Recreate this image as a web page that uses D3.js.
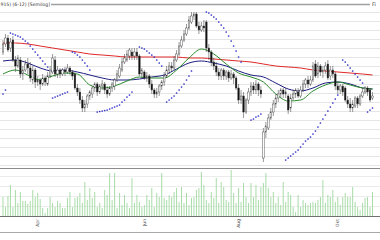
<!DOCTYPE html>
<html>
<head>
<meta charset="utf-8">
<script src="https://cdn.jsdelivr.net/npm/d3@7/dist/d3.min.js"></script>
<style>
  body { margin: 0; background: #fff; }
  #graf { width: 380px; height: 240px; }
  text { font-family: "DejaVu Sans", sans-serif; }
</style>
</head>
<body>
<div id="graf"></div>
<script>
// Datos (precio por vela, 150 sesiones)
const apertura = [
  14.8,15.6,16.2,15.2,16.0,14.0,13.4,14.0,12.6,13.0,
  13.6,13.2,12.0,13.0,11.8,12.0,11.6,12.2,11.6,12.4,
  12.8,14.0,12.6,13.0,12.6,13.0,12.8,13.2,12.8,12.6,
  11.2,10.8,10.0,9.2,9.6,10.4,10.6,11.2,11.6,10.8,
  11.4,11.6,11.0,10.6,11.2,11.4,12.0,12.4,13.0,13.8,
  14.0,14.4,14.8,14.4,14.8,14.4,12.6,12.8,12.2,12.4,
  11.6,11.0,10.6,10.8,11.4,11.8,12.4,13.0,13.4,13.2,
  14.0,14.6,15.4,16.0,16.6,17.2,17.8,18.4,18.6,17.4,
  17.0,17.4,17.8,15.2,14.8,13.8,13.4,12.8,12.4,13.0,
  12.4,12.8,12.2,12.6,12.2,11.2,10.0,10.4,8.8,10.0,
  10.8,11.4,11.0,11.6,11.0,4.2,6.8,7.2,8.2,8.8,
  9.6,10.2,10.6,11.0,10.6,10.4,9.2,10.2,10.6,10.8,
  10.4,11.0,11.6,12.0,11.6,12.0,13.6,12.6,13.4,12.8,
  13.0,13.6,12.4,13.0,12.6,11.4,11.0,11.4,11.2,10.0,
  9.6,9.2,9.4,10.2,9.6,10.4,10.8,11.2,11.0,10.2]
const cierre = [
  15.6,16.2,15.0,15.8,14.0,13.4,14.2,12.6,13.0,13.6,
  13.2,12.2,13.0,11.8,12.0,11.6,12.2,11.8,12.4,13.0,
  14.2,12.6,13.0,12.6,13.0,12.8,13.2,12.8,12.4,11.2,
  10.8,10.0,9.2,9.6,10.4,10.8,11.2,11.6,10.8,11.4,
  11.6,11.0,10.6,11.2,11.6,12.0,12.6,13.2,13.8,14.2,
  14.6,15.0,14.4,14.8,14.4,12.6,13.0,12.2,12.4,11.6,
  11.0,10.6,10.8,11.4,11.8,12.4,13.0,13.4,13.2,14.0,
  14.6,15.4,16.0,16.6,17.2,18.0,18.4,18.6,17.4,17.0,
  17.4,17.2,15.2,14.8,13.8,13.4,12.8,12.4,13.0,12.4,
  12.8,12.2,12.6,12.2,11.2,10.0,10.4,8.8,10.0,10.8,
  11.4,11.0,11.6,11.0,10.6,6.8,7.4,8.2,8.8,9.6,
  10.2,10.6,11.0,10.6,10.8,9.0,10.2,10.6,11.0,10.4,
  11.0,11.6,12.0,11.6,12.0,13.4,12.4,13.4,12.8,13.0,
  13.4,12.2,13.0,12.6,11.4,11.0,11.4,10.8,10.0,9.6,
  9.2,9.6,10.2,9.6,10.4,10.8,11.2,10.8,10.0,10.4]
const maximo = [
  16.0,16.6,16.5,16.2,16.4,14.4,14.5,14.3,13.4,14.0,
  14.2,13.8,13.4,13.2,12.4,12.2,12.6,12.4,12.8,13.4,
  14.6,14.4,13.4,13.2,13.2,13.3,13.6,13.4,13.0,12.8,
  11.6,11.2,10.4,10.0,10.6,11.0,11.4,11.8,11.8,11.6,
  12.0,11.8,11.4,11.4,11.8,12.2,13.0,13.6,14.2,14.6,
  15.0,15.2,15.2,15.2,15.2,14.6,13.2,13.0,12.8,12.6,
  12.0,11.2,11.2,11.6,12.0,12.8,13.4,13.8,13.8,14.4,
  15.0,15.8,16.4,17.0,17.6,18.4,18.8,18.8,18.8,17.8,
  17.8,18.0,18.0,15.6,15.0,14.2,13.8,13.2,13.2,13.2,
  13.0,13.0,13.0,12.8,12.4,11.6,11.0,10.8,10.2,11.2,
  11.8,11.8,12.0,11.8,11.4,7.2,7.8,8.6,9.2,10.0,
  10.6,11.0,11.2,11.2,11.2,10.6,10.6,11.0,11.2,11.2,
  11.4,12.0,12.2,12.4,12.4,13.8,14.0,13.8,13.6,13.4,
  13.8,14.0,13.4,13.4,12.8,11.8,11.6,11.6,11.4,10.4,
  10.2,10.0,10.4,10.4,10.6,11.2,11.4,11.4,11.2,10.8]
const minimo = [
  14.5,15.3,14.8,14.8,13.8,12.8,13.2,12.2,12.0,12.8,
  12.6,11.8,11.6,11.2,11.4,11.0,11.4,11.4,11.4,12.2,
  12.6,12.3,12.2,12.2,12.4,12.4,12.6,12.5,12.0,11.0,
  10.4,9.6,8.8,8.8,9.2,10.0,10.2,10.8,10.4,10.6,
  11.0,10.6,10.2,10.4,10.8,11.0,11.8,12.2,12.8,13.6,
  13.8,14.0,14.0,14.0,14.0,12.4,12.2,12.0,11.8,11.2,
  10.6,10.2,10.2,10.4,11.0,11.4,12.2,12.6,12.8,13.0,
  13.8,14.4,15.2,15.8,16.4,17.0,17.6,18.0,17.2,16.6,
  16.8,16.8,14.8,14.0,13.4,13.0,12.4,12.0,12.0,12.0,
  12.0,11.8,12.0,11.6,11.0,9.6,9.6,8.2,8.6,9.6,
  10.4,10.6,10.6,10.4,10.2,3.8,6.2,7.0,8.0,8.4,
  9.2,9.8,10.2,10.2,10.2,8.6,8.8,10.0,10.2,10.2,
  10.2,10.8,11.2,11.2,11.4,11.8,12.2,12.2,12.4,12.2,
  12.6,12.0,12.0,12.2,11.0,10.6,10.6,10.4,9.8,9.2,
  8.8,8.8,9.2,9.2,9.4,10.2,10.6,10.4,9.8,10.0]
// volumen en miles
const volumen = [
  19,9,20,31,9,26,13,24,15,15,12,15,26,19,23,17,8,3,8,19,13,9,15,13,8,
  8,18,24,9,18,19,23,13,34,16,28,18,24,9,13,8,26,21,43,16,43,8,23,11,21,13,
  8,38,13,21,14,9,11,21,16,28,9,23,19,43,18,16,21,19,24,28,14,29,13,23,11,
  18,19,26,28,44,31,16,13,24,18,38,13,34,29,16,14,46,23,13,28,14,33,19,13,
  33,19,31,16,29,33,43,28,19,24,13,19,11,34,14,24,21,9,4,21,9,16,13,11,13,
  14,13,16,19,36,13,21,19,26,14,19,11,19,23,19,19,29,14,9,6,13,18,19,9,24]

// medias móviles (valor cada 5 sesiones)
const idxMedias = [0,5,10,15,20,25,30,35,40,45,50,55,60,65,70,75,80,85,90,95,
  100,105,110,115,120,125,130,135,140,145,149]
const mediaCorta = [12.6,13.0,12.5,12.0,12.4,12.7,12.6,11.5,11.2,11.4,11.9,12.3,12.2,12.2,13.0,
  14.2,15.1,14.6,13.6,12.7,12.3,11.8,10.6,9.9,10.0,10.9,11.5,11.8,11.5,11.2,11.1]
const mediaMedia = [13.9,14.0,13.7,13.2,12.9,13.0,12.8,12.5,12.2,12.0,12.0,12.1,12.3,12.5,13.1,
  13.7,13.9,13.7,13.4,12.9,12.5,12.3,11.7,11.1,10.9,11.2,11.7,11.8,11.6,11.2,11.1]
const mediaLarga = [15.7,15.7,15.6,15.4,15.2,15.0,14.8,14.6,14.5,14.4,14.3,14.3,14.3,14.3,14.3,
  14.2,14.2,14.1,14.0,13.9,13.8,13.6,13.4,13.3,13.2,13.0,12.9,12.8,12.7,12.6,12.5]

// parabolic SAR (null = sin punto)
const sar = [
  10.6,11.0,null,
  16.7,16.6,16.5,16.4,16.3,16.1,15.9,15.7,15.4,15.1,14.8,14.5,14.2,13.9,13.6,13.3,
  null,
  10.2,10.3,10.4,10.5,10.6,10.7,10.8,
  null,
  14.8,14.7,14.5,14.3,14.0,13.7,13.4,13.0,
  null,null,
  8.8,8.85,8.9,8.95,9.0,9.1,9.2,9.3,9.4,9.5,9.8,10.0,10.3,10.5,10.8,
  null,null,
  15.3,15.2,15.1,14.9,14.7,14.5,14.3,14.0,13.7,13.4,
  null,
  9.8,10.0,10.2,10.4,10.7,11.0,11.3,11.6,12.0,12.4,12.9,
  null,null,null,null,null,
  18.8,18.7,18.5,18.3,18.1,17.8,17.5,17.2,16.8,16.4,15.9,15.4,14.9,14.3,13.8,
  null,null,null,
  8.0,8.1,8.3,8.4,8.6,
  null,null,null,null,null,null,null,null,null,
  4.0,4.2,4.4,4.6,4.8,5.0,5.3,5.6,5.9,6.1,6.3,6.6,6.9,7.3,7.7,8.1,8.5,8.9,9.3,9.7,10.1,10.5,
  null,
  14.0,13.8,13.5,13.2,12.9,12.6,12.3,12.0,11.7,
  null,
  8.8,9.0,9.2]

// etiquetas del eje x
const idxMeses = [14, 57, 95, 135]
const meses = ["Apr", "Jun", "Aug", "Okt"]
const titulo = "915) (6-12) [Semilog]"

const anchoTotal = 380
const altoTotal = 240
const svg = d3.select("#graf")
  .append("svg")
  .attr("width", anchoTotal)
  .attr("height", altoTotal)

// escalas
const n = cierre.length
const x = d3.scaleLinear().domain([0, n - 1]).range([3, 372.5])
const y = d3.scaleLinear().domain([3.2, 19.7]).range([168, 3])
const yVol = d3.scaleLinear().domain([0, 48]).range([216, 168])

// rejilla del panel de precios
const rejilla = d3.range(1, 19).map((k) => 19.7 - 0.9 * k)
svg.append("g").selectAll("line").data(rejilla).enter().append("line")
  .attr("x1", 0).attr("x2", anchoTotal)
  .attr("y1", (d) => Math.round(y(d)) + 0.5).attr("y2", (d) => Math.round(y(d)) + 0.5)
  .attr("stroke", "#e6e6e6")

// rejilla del volumen
svg.append("g").selectAll("line").data(yVol.ticks(5).filter((d) => d > 0)).enter().append("line")
  .attr("x1", 0).attr("x2", anchoTotal)
  .attr("y1", (d) => Math.round(yVol(d)) + 0.5).attr("y2", (d) => Math.round(yVol(d)) + 0.5)
  .attr("stroke", "#ececec")

// bordes
const bordes = [
  { y: 4.5, c: "#a0a0a0", w: 1.5 },
  { y: 168.5, c: "#8c8c8c", w: 1 },
  { y: 216.5, c: "#707070", w: 1 },
  { y: 232.5, c: "#a8a8a8", w: 1 }
]
svg.append("g").selectAll("line").data(bordes).enter().append("line")
  .attr("x1", 0).attr("x2", anchoTotal)
  .attr("y1", (d) => d.y).attr("y2", (d) => d.y)
  .attr("stroke", (d) => d.c).attr("stroke-width", (d) => d.w)

// volumen
svg.append("g").selectAll("line").data(volumen).enter().append("line")
  .attr("x1", (d, i) => x(i)).attr("x2", (d, i) => x(i))
  .attr("y1", yVol(0)).attr("y2", (d) => yVol(d))
  .attr("stroke", "#9fd89f").attr("stroke-width", 0.9)

// medias móviles
const linea = (vals) => d3.line()
  .x((d, k) => x(idxMedias[k]))
  .y((d) => y(d))
  .curve(d3.curveMonotoneX)(vals)

const medias = [
  { vals: mediaLarga, color: "#e02828" },
  { vals: mediaMedia, color: "#1c1c80" },
  { vals: mediaCorta, color: "#2a8a2a" }
]
svg.append("g").selectAll("path").data(medias).enter().append("path")
  .attr("d", (d) => linea(d.vals))
  .attr("fill", "none")
  .attr("stroke", (d) => d.color)
  .attr("stroke-width", 1)

// velas
const velas = d3.range(n).map((i) => ({
  i, o: apertura[i], c: cierre[i], h: maximo[i], l: minimo[i]
}))
const gVelas = svg.append("g")
gVelas.selectAll("line").data(velas).enter().append("line")
  .attr("x1", (d) => x(d.i)).attr("x2", (d) => x(d.i))
  .attr("y1", (d) => y(d.h)).attr("y2", (d) => y(d.l))
  .attr("stroke", "#333").attr("stroke-width", 0.5)
gVelas.selectAll("rect").data(velas).enter().append("rect")
  .attr("x", (d) => x(d.i) - 0.8)
  .attr("width", 1.6)
  .attr("y", (d) => y(Math.max(d.o, d.c)))
  .attr("height", (d) => Math.max(Math.abs(y(d.o) - y(d.c)), 0.8))
  .attr("fill", (d) => (d.c > d.o ? "#fff" : "#111"))
  .attr("stroke", "#333").attr("stroke-width", 0.4)

// puntos del SAR
svg.append("g").selectAll("circle")
  .data(sar.map((v, i) => ({ i, v })).filter((d) => d.v !== null))
  .enter().append("circle")
  .attr("cx", (d) => x(d.i)).attr("cy", (d) => y(d.v))
  .attr("r", 0.85)
  .attr("fill", "#3030c8")

// etiquetas de meses
svg.append("g").selectAll("text").data(idxMeses).enter().append("text")
  .attr("transform", (d) => `translate(${x(d) + 1.5}, 219) rotate(-90)`)
  .attr("text-anchor", "end")
  .attr("font-size", 4.5)
  .attr("fill", "#444")
  .text((d, k) => meses[k])

// título
svg.append("rect").attr("x", 0).attr("y", 0).attr("width", 51).attr("height", 8).attr("fill", "#fff")
svg.append("text").attr("x", 0.5).attr("y", 6.2)
  .attr("font-size", 4.6).attr("fill", "#333").text(titulo)
svg.append("rect").attr("x", 370).attr("y", 0).attr("width", 10).attr("height", 8).attr("fill", "#fff")
svg.append("text").attr("x", 372).attr("y", 6.2)
  .attr("font-size", 4.8).attr("fill", "#333").text("Fi")
</script>
</body>
</html>
